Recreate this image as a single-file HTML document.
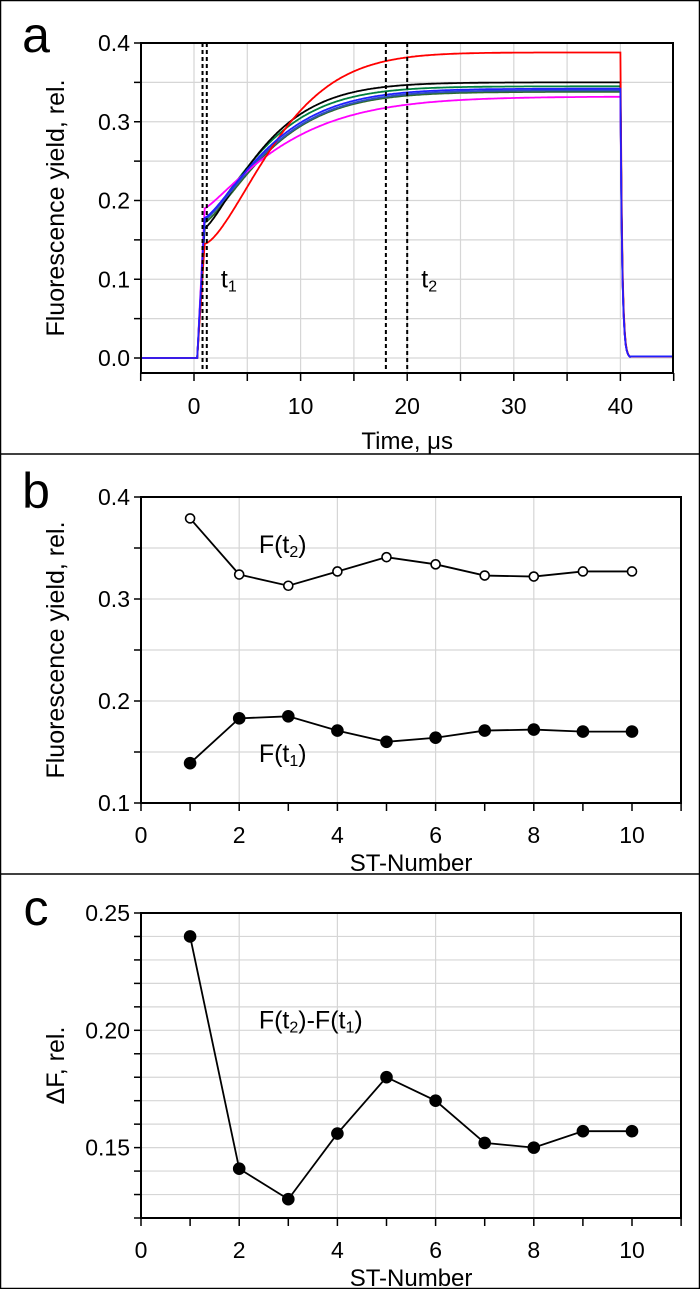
<!DOCTYPE html>
<html><head><meta charset="utf-8"><style>
html,body{margin:0;padding:0;background:#fff}
svg{display:block;font-family:"Liberation Sans",sans-serif}
</style></head><body>
<svg id="s" width="700" height="1289" viewBox="0 0 700 1289" xmlns="http://www.w3.org/2000/svg">
<rect x="0.5" y="0.5" width="699" height="1288" fill="#fff" stroke="#000" stroke-width="1.5"/>
<line x1="0" y1="454" x2="700" y2="454" stroke="#000" stroke-width="1.5"/>
<line x1="0" y1="874" x2="700" y2="874" stroke="#000" stroke-width="1.5"/>
<g id="g"></g>
</svg>
<script>
const NS="http://www.w3.org/2000/svg",G=document.getElementById('g');
function el(t,a,txt){const e=document.createElementNS(NS,t);for(const k in a)e.setAttribute(k,a[k]);if(txt!=null)e.innerHTML=txt;G.appendChild(e);return e;}
function line(x1,y1,x2,y2,c,w,d){const a={x1,y1,x2,y2,stroke:c,'stroke-width':w};if(d)a['stroke-dasharray']=d;el('line',a);}
function txt(x,y,s,sz,anc,extra){const a={x,y,'font-size':sz,'text-anchor':anc||'middle',fill:'#000'};Object.assign(a,extra||{});el('text',a,s);}
const GR='#d6d6d6';
(function(){
 const L=141,R=673,T=43,B=373;
 const X=t=>194+(t)*10.66, Y=v=>358-v*787.5;
 for(let t=-5;t<=45;t+=5){ if(t>-5&&t<45) line(X(t),T,X(t),B,GR,1.2); line(X(t),B,X(t),B+8,'#000',1.5);}
 for(let v=0;v<=0.4001;v+=0.05){ line(L,Y(v),R,Y(v),GR,1.2); line(L-7,Y(v),L,Y(v),'#000',1.5);}
 for(const v of [0,0.1,0.2,0.3,0.4]) txt(130,Y(v)+8,v.toFixed(1),23,'end');
 for(const t of [0,10,20,30,40]) txt(X(t),414,t,23);
 txt(X(20),449,'Time, μs',24);
 el('text',{x:0,y:0,'font-size':25,'text-anchor':'middle',transform:'translate(64,208) rotate(-90)'},'Fluorescence yield, rel.');
 txt(36,52,'a',50);
 const curves=[
  ['#2d6b2d',0.172,0.338,7.2,1.3],['#007f3f',0.175,0.345,6.8,1.3],['#000',0.165,0.35,6.5,1.3],
  ['#3050c0',0.176,0.340,7.3,1.3],['#ff00ff',0.19,0.332,8.5,1.2],['#ff0000',0.145,0.388,8,1.5],['#2020ff',0.178,0.342,7.2,1.3]];
 for(const [c,F0,Fm,tau,n] of curves){
  let d='';
  for(let t=-5;t<=45;t+=0.1){
   let v;
   if(t<0.3)v=0;
   else if(t<1)v=F0*(t-0.3)/0.7;
   else if(t<=40){const u=Math.pow((t-1)/tau,n);v=F0+(Fm-F0)*(1-Math.exp(-u));}
   else if(t<41){const u=Math.pow(39/tau,n);const vm=F0+(Fm-F0)*(1-Math.exp(-u));v=vm*Math.exp(-(t-40)*6);}
   else v=0.002;
   d+=(d?'L':'M')+X(t).toFixed(1)+','+Y(v).toFixed(1);
  }
  el('path',{d,fill:'none',stroke:c,'stroke-width':1.8});
 }
 for(const t of [0.8,1.2,18,20]) line(X(t),T,X(t),B,'#000',2,'4,3');
 txt(X(1.2)+22,Y(0.1)+8,'t<tspan font-size="16" dy="4">1</tspan>',25);
 txt(X(20)+22,Y(0.1)+8,'t<tspan font-size="16" dy="4">2</tspan>',25);
 el('rect',{x:L,y:T,width:R-L,height:B-T,fill:'none',stroke:'#000','stroke-width':2});
})();
function stPanel(T,B,ymin,ymax,gstep,ticks,fmt,lab,letter,letY,series,xgrid){
 const L=141,R=681;
 const X=n=>L+n*49.1, Y=v=>B-(v-ymin)/(ymax-ymin)*(B-T);
 for(let n=0;n<=11;n++){ if(xgrid.includes(n)) line(X(n),T,X(n),B,GR,1.2); line(X(n),B,X(n),B+8,'#000',1.5);}
 for(let v=ymin;v<=ymax+1e-9;v+=gstep){ line(L,Y(v),R,Y(v),GR,1.2); line(L-7,Y(v),L,Y(v),'#000',1.5);}
 for(const v of ticks) txt(130,Y(v)+8,v.toFixed(fmt),23,'end');
 for(const n of [0,2,4,6,8,10]) txt(X(n),B+40,n,23);
 txt(X(5.5),B+68,'ST-Number',24);
 el('text',{x:0,y:0,'font-size':25,'text-anchor':'middle',transform:`translate(64,${(T+B)/2}) rotate(-90)`},lab);
 txt(36,letY,letter,50);
 for(const [data,open] of series){
  el('polyline',{points:data.map((v,i)=>X(i+1)+','+Y(v)).join(' '),fill:'none',stroke:'#000','stroke-width':1.8});
  data.forEach((v,i)=>el('circle',{cx:X(i+1),cy:Y(v),r:open?4.5:5.5,fill:open?'#fff':'#000',stroke:'#000','stroke-width':1.6}));
 }
 el('rect',{x:L,y:T,width:R-L,height:B-T,fill:'none',stroke:'#000','stroke-width':2});
 return {X,Y};
}
let p=stPanel(497,803,0.1,0.4,0.05,[0.1,0.2,0.3,0.4],1,'Fluorescence yield, rel.','b',508,
 [[[0.379,0.324,0.313,0.327,0.341,0.334,0.323,0.322,0.327,0.327],true],
  [[0.139,0.183,0.185,0.171,0.160,0.164,0.171,0.172,0.170,0.170],false]],[2,4,6,8]);
txt(p.X(2.4),p.Y(0.355)+10,'F(t<tspan font-size="16" dy="4">2</tspan><tspan dy="-4">)</tspan>',25,'start');
txt(p.X(2.4),p.Y(0.15)+10,'F(t<tspan font-size="16" dy="4">1</tspan><tspan dy="-4">)</tspan>',25,'start');
let q=stPanel(913,1218,0.12,0.25,0.01,[0.15,0.20,0.25],2,'ΔF, rel.','c',925,
 [[[0.240,0.141,0.128,0.156,0.180,0.170,0.152,0.150,0.157,0.157],false]],[2,4,6,8]);
txt(q.X(2.4),q.Y(0.205)+10,'F(t<tspan font-size="16" dy="4">2</tspan><tspan dy="-4">)-F(t</tspan><tspan font-size="16" dy="4">1</tspan><tspan dy="-4">)</tspan>',25,'start');
</script>
</body></html>
